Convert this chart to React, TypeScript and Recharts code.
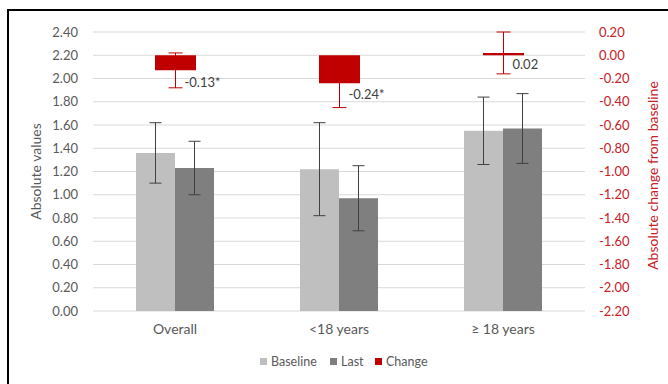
import { Bar, BarChart, CartesianGrid, ErrorBar, LabelList, XAxis, YAxis } from "recharts";

const CATEGORIES = ["Overall", "<18 years", "≥ 18 years"];
const BASELINE = [1.36, 1.22, 1.55];
const BASELINE_ERR = [0.26, 0.4, 0.29];
const LAST = [1.23, 0.97, 1.57];
const LAST_ERR = [0.23, 0.28, 0.3];
const CHANGE = [-0.13, -0.24, 0.02];
const CHANGE_ERR = [0.15, 0.21, 0.18];
const CHANGE_LABELS = ["-0.13*", "-0.24*", "0.02"];

const LEFT_TICKS = [0, 0.2, 0.4, 0.6, 0.8, 1.0, 1.2, 1.4, 1.6, 1.8, 2.0, 2.2, 2.4];
const RIGHT_TICKS = [-2.2, -2.0, -1.8, -1.6, -1.4, -1.2, -1.0, -0.8, -0.6, -0.4, -0.2, 0, 0.2];

const GRAY_TEXT = "#595959";
const RED_TEXT = "#c8201f";

const data = CATEGORIES.map((name, i) => ({
  name,
  baseline: BASELINE[i],
  baselineErr: BASELINE_ERR[i],
  last: LAST[i],
  lastErr: LAST_ERR[i],
  change: CHANGE[i],
  changeErr: CHANGE_ERR[i],
  label: CHANGE_LABELS[i],
}));

const legendItems = [
  { label: "Baseline", color: "#bfbfbf", left: 260 },
  { label: "Last", color: "#7f7f7f", left: 330 },
  { label: "Change", color: "#c00000", left: 375 },
];

// label sits just right of the error bar, below the end of the change bar
function ChangeLabel(props: any) {
  const vb = props.viewBox || props;
  const { index } = props;
  const x = vb.x + vb.width / 2;
  const v = CHANGE[index];
  const end = v < 0 ? Math.max(vb.y, vb.y + vb.height) : Math.min(vb.y, vb.y + vb.height);
  return (
    <text
      x={x + 9}
      y={end + 13}
      fill="#404040"
      fontSize={13}
      dominantBaseline="middle"
    >
      {CHANGE_LABELS[index]}
    </text>
  );
}

export default function App() {
  return (
    <div
      style={{
        position: "fixed",
        left: 0,
        top: 0,
        width: 668,
        height: 384,
        background: "#fff",
        fontFamily: "Lato, sans-serif",
        overflow: "hidden",
      }}
    >
      <div
        style={{
          position: "absolute",
          left: 7,
          top: 9,
          width: 700,
          height: 400,
          borderTop: "2px solid #000",
          borderLeft: "2px solid #000",
        }}
      />
      <div style={{ position: "absolute", left: 0, top: 0 }}>
        <BarChart
          width={668}
          height={384}
          data={data}
          margin={{ top: 32, right: 13, bottom: 43, left: 23 }}
          barGap={0}
        >
          <CartesianGrid
            vertical={false}
            stroke="#d9d9d9"
            xAxisId="main"
            yAxisId="left"
          />
          <XAxis xAxisId="chg" dataKey="name" hide height={0} />
          <XAxis
            xAxisId="main"
            dataKey="name"
            tickLine={false}
            axisLine={false}
            interval={0}
            height={30}
            tickMargin={7}
            tick={{ fill: GRAY_TEXT, fontSize: 14 }}
          />
          <YAxis
            yAxisId="left"
            domain={[0, 2.4]}
            ticks={LEFT_TICKS}
            interval={0}
            width={70}
            tickLine={false}
            axisLine={false}
            tickMargin={9}
            tick={{ fill: GRAY_TEXT, fontSize: 13 }}
            tickFormatter={(v: number) => v.toFixed(2)}
            label={{
              value: "Absolute values",
              angle: -90,
              position: "center",
              dx: -22,
              fill: GRAY_TEXT,
              fontSize: 14,
            }}
          />
          <YAxis
            yAxisId="right"
            orientation="right"
            domain={[-2.2, 0.2]}
            ticks={RIGHT_TICKS}
            interval={0}
            width={70}
            tickLine={false}
            axisLine={false}
            tickMargin={8}
            tick={{ fill: RED_TEXT, fontSize: 13 }}
            tickFormatter={(v: number) => v.toFixed(2)}
            label={{
              value: "Absolute change from baseline",
              angle: -90,
              position: "center",
              dx: 33,
              dy: 4,
              fill: RED_TEXT,
              fontSize: 14,
            }}
          />
          <Bar
            dataKey="baseline"
            xAxisId="main"
            yAxisId="left"
            fill="#bfbfbf"
            barSize={39}
            isAnimationActive={false}
          >
            <ErrorBar dataKey="baselineErr" width={6} stroke="#404040" strokeWidth={1} />
          </Bar>
          <Bar
            dataKey="last"
            xAxisId="main"
            yAxisId="left"
            fill="#7f7f7f"
            barSize={39}
            isAnimationActive={false}
          >
            <ErrorBar dataKey="lastErr" width={6} stroke="#404040" strokeWidth={1} />
          </Bar>
          <Bar
            dataKey="change"
            xAxisId="chg"
            yAxisId="right"
            fill="#c00000"
            barSize={41}
            isAnimationActive={false}
          >
            <ErrorBar dataKey="changeErr" width={7} stroke="#c00000" strokeWidth={1} />
            <LabelList dataKey="label" content={<ChangeLabel />} />
          </Bar>
        </BarChart>
      </div>
      {legendItems.map((it) => (
        <div
          key={it.label}
          style={{
            position: "absolute",
            left: it.left,
            top: 353,
            height: 16,
            display: "flex",
            alignItems: "center",
            gap: 4,
            fontSize: 12.5,
            color: GRAY_TEXT,
            whiteSpace: "nowrap",
          }}
        >
          <span style={{ width: 7, height: 7, background: it.color, display: "inline-block" }} />
          <span>{it.label}</span>
        </div>
      ))}
    </div>
  );
}
